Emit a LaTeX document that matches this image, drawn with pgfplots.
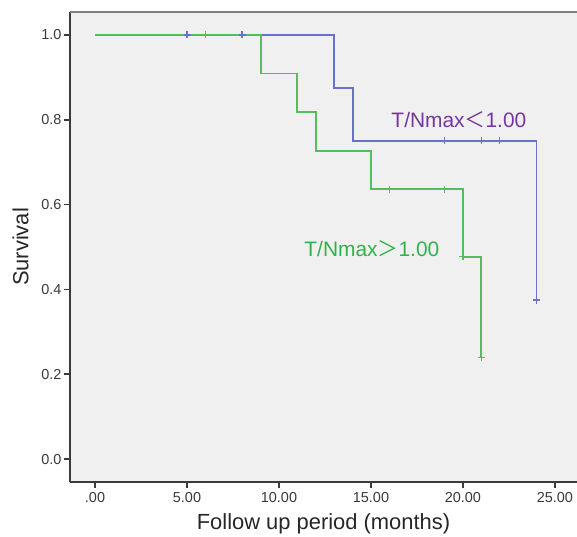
\documentclass[border=0pt]{standalone}
\usepackage{pgfplots}
\pgfplotsset{compat=1.18}
\usepackage{fontspec}
\setmainfont{Liberation Sans}
\newfontfamily\cjk{Noto Sans CJK SC}
\definecolor{kmblue}{HTML}{6673C6}
\definecolor{kmgreen}{HTML}{55BD5F}
\definecolor{lblgreen}{HTML}{2EB34C}
\definecolor{lblpurple}{HTML}{7636A0}
\definecolor{bg}{HTML}{F0F0F0}
\definecolor{axisdark}{HTML}{3A3A3A}

\begin{document}
\begin{tikzpicture}
\begin{axis}[
  name=km,
  scale only axis,
  width=507bp, height=470bp,
  xmin=-1.36, xmax=26.2,
  ymin=-0.054, ymax=1.054,
  axis lines*=left,
  axis line style={-, axisdark, line width=1.6bp},
  axis background/.style={fill=bg},
  tick align=outside,
  major tick length=6bp,
  tick style={axisdark, line width=1.6bp},
  xtick={0,5,10,15,20,25},
  xticklabels={.00,5.00,10.00,15.00,20.00,25.00},
  ytick={0,0.2,0.4,0.6,0.8,1.0},
  yticklabels={0.0,0.2,0.4,0.6,0.8,1.0},
  ticklabel style={font=\fontsize{14.5}{14.5}\selectfont, text=axisdark},
  xticklabel style={yshift=-1bp},
  yticklabel style={xshift=1bp},
  xlabel={Follow up period (months)},
  ylabel={Survival},
  label style={font=\fontsize{22}{22}\selectfont, text=black!85},
  xlabel style={yshift=-4bp},
  ylabel style={yshift=6bp},
  clip=false,
]
\draw[gray, line width=1.8bp] (rel axis cs:0,1) -- (rel axis cs:1,1);
% T/Nmax < 1.00
\addplot[kmblue, line width=1.9bp, const plot] coordinates {
(0,1.0) (13,0.875) (14,0.75) (24,0.375)
};
% T/Nmax > 1.00
\addplot[kmgreen, line width=1.9bp, const plot] coordinates {
(0,1.0) (9,0.909) (11,0.818) (12,0.727) (15,0.636) (20,0.477) (21,0.239)
};
% censored
\addplot[kmblue, only marks, mark=+, mark size=3.5bp, line width=1.4bp] coordinates {
(5,1.0) (8,1.0) (19,0.75) (21,0.75) (22,0.75) (24,0.375)
};
\addplot[kmgreen, only marks, mark=+, mark size=3.5bp, line width=1.4bp] coordinates {
(6,1.0) (16,0.636) (19,0.636) (20,0.477) (21,0.239)
};
\node[lblpurple, font=\fontsize{21}{21}\selectfont] at (axis cs:19.78,0.80) {T/Nmax{\cjk ＜}1.00};
\node[lblgreen, font=\fontsize{21}{21}\selectfont] at (axis cs:15.05,0.495) {T/Nmax{\cjk ＞}1.00};
\end{axis}
\pgfresetboundingbox
\path[use as bounding box] ([xshift=-70bp,yshift=-55bp]km.south west) rectangle ([yshift=12bp]km.north east);
\end{tikzpicture}
\end{document}
